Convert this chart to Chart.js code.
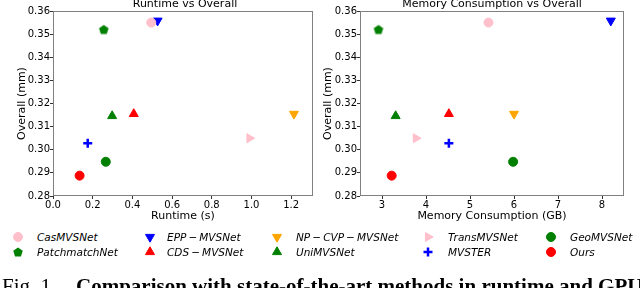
<!DOCTYPE html>
<html>
<head>
<meta charset="utf-8">
<script src="https://cdn.jsdelivr.net/npm/chart.js@4"></script>
<style>
  body { margin: 0; width: 640px; height: 288px; overflow: hidden; background: #fff; position: relative; font-family: 'DejaVu Sans', sans-serif; }
  canvas.plot { position: absolute; top: 0; }
  .title { position: absolute; top: -3px; font-size: 11px; line-height: 13px; white-space: nowrap; transform: translateX(-50%); color: #000; }
  .lg-text { position: absolute; font-size: 10.5px; font-style: italic; line-height: 14px; white-space: nowrap; color: #000; }
  .lg-mark { position: absolute; width: 16px; height: 16px; }
  .caption { position: absolute; top: 275px; font-family: 'Liberation Serif', serif; font-size: 21px; line-height: 22px; white-space: nowrap; color: #000; }
</style>
</head>
<body>
<canvas id="runtimeChart" class="plot" width="320" height="225" style="left:0"></canvas>
<canvas id="memoryChart" class="plot" width="320" height="225" style="left:320px"></canvas>
<div class="title" style="left:185px">Runtime vs Overall</div>
<div class="title" style="left:492px">Memory Consumption vs Overall</div>
<div id="legend"></div>
<div class="caption" style="left:2px">Fig. 1.</div>
<div class="caption" style="left:76px; font-weight:bold">Comparison with state-of-the-art methods in runtime and GPU</div>
<script>
// values
const methods = ['CasMVSNet', 'PatchmatchNet', 'EPP\u2009−\u2009MVSNet', 'CDS\u2009−\u2009MVSNet', 'NP\u2009−\u2009CVP\u2009−\u2009MVSNet',
                 'UniMVSNet', 'TransMVSNet', 'MVSTER', 'GeoMVSNet', 'Ours'];
const runtime = [0.495, 0.256, 0.527, 0.407, 1.214, 0.298, 0.99, 0.175, 0.266, 0.134];
const memory  = [5.42, 2.92, 8.2, 4.52, 6.0, 3.31, 3.77, 4.52, 5.98, 3.22];
const overall = [0.355, 0.352, 0.3558, 0.3155, 0.3155, 0.3146, 0.305, 0.3028, 0.2948, 0.2888];

const runtimeTicks = [0, 0.2, 0.4, 0.6, 0.8, 1.0, 1.2];
const memoryTicks = [3, 4, 5, 6, 7, 8];
const overallTicks = [0.28, 0.29, 0.30, 0.31, 0.32, 0.33, 0.34, 0.35, 0.36];

// marker styling
const colors = ['#ffc0cb', '#008000', '#0000ff', '#ff0000', '#ffa500', '#008000', '#ffc0cb', '#0000ff', '#008000', '#ff0000'];
const shapes = ['circle', 'pentagon', 'down', 'up', 'down', 'up', 'right', 'plus', 'circle', 'circle'];

const FONT = "'DejaVu Sans', sans-serif";

function pentagonImage(color) {
  const c = document.createElement('canvas');
  c.width = 12; c.height = 12;
  const g = c.getContext('2d');
  g.fillStyle = color;
  g.beginPath();
  for (let k = 0; k < 5; k++) {
    const a = -Math.PI / 2 + k * 2 * Math.PI / 5;
    const px = 6 + 5 * Math.cos(a), py = 6.4 + 5 * Math.sin(a);
    if (k === 0) g.moveTo(px, py); else g.lineTo(px, py);
  }
  g.closePath();
  g.fill();
  return c;
}

function markerStyle(shape, color) {
  switch (shape) {
    case 'pentagon': return { pointStyle: pentagonImage(color), rotation: 0, radius: 5, borderWidth: 0 };
    case 'down': return { pointStyle: 'triangle', rotation: 180, radius: 5.2, borderWidth: 1 };
    case 'up': return { pointStyle: 'triangle', rotation: 0, radius: 5.2, borderWidth: 1 };
    case 'right': return { pointStyle: 'triangle', rotation: 90, radius: 5.2, borderWidth: 1 };
    case 'plus': return { pointStyle: 'cross', rotation: 0, radius: 4.5, borderWidth: 2.5 };
    default: return { pointStyle: 'circle', rotation: 0, radius: 4.5, borderWidth: 1 };
  }
}

const boxPlugin = {
  id: 'box',
  beforeDatasetsDraw(chart) {
    const { ctx, chartArea: a } = chart;
    ctx.save();
    ctx.strokeStyle = '#808080';
    ctx.lineWidth = 1;
    ctx.strokeRect(a.left + 0.5, a.top + 0.5, a.right - a.left - 1, a.bottom - a.top - 1);
    ctx.restore();
  }
};

function makeChart(id, xs, xTicks, xMin, xMax, xFmt, xTitle, yWidth, yTitlePad, rightPad) {
  const datasets = methods.map((name, i) => {
    const m = markerStyle(shapes[i], colors[i]);
    return {
      label: name,
      data: [{ x: xs[i], y: overall[i] }],
      backgroundColor: colors[i],
      borderColor: colors[i],
      borderWidth: m.borderWidth,
      pointStyle: m.pointStyle,
      rotation: m.rotation,
      pointRadius: m.radius,
      pointHoverRadius: m.radius
    };
  });
  return new Chart(document.getElementById(id), {
    type: 'scatter',
    data: { datasets: datasets },
    plugins: [boxPlugin],
    options: {
      responsive: false,
      animation: false,
      devicePixelRatio: 1,
      layout: { padding: { top: 11, right: rightPad, left: 0, bottom: 0 } },
      plugins: { legend: { display: false }, tooltip: { enabled: false } },
      scales: {
        x: {
          type: 'linear', min: xMin, max: xMax,
          afterBuildTicks: s => { s.ticks = xTicks.map(v => ({ value: v })); },
          afterFit: s => { s.height = 29; },
          grid: { drawOnChartArea: false, tickLength: 3, tickColor: '#333' },
          border: { display: false },
          ticks: { padding: 0, color: '#000', font: { family: FONT, size: 10 }, callback: xFmt, maxRotation: 0 },
          title: { display: true, text: xTitle, color: '#000', font: { family: FONT, size: 11 }, padding: { top: 0, bottom: 2 } }
        },
        y: {
          type: 'linear', min: 0.28, max: 0.36,
          afterBuildTicks: s => { s.ticks = overallTicks.map(v => ({ value: v })); },
          afterFit: s => { s.width = yWidth; },
          grid: { drawOnChartArea: false, tickLength: 3, tickColor: '#333' },
          border: { display: false },
          ticks: { padding: 0, color: '#000', font: { family: FONT, size: 10 }, callback: v => v.toFixed(2) },
          title: { display: true, text: 'Overall (mm)', color: '#000', font: { family: FONT, size: 11 }, padding: { top: yTitlePad, bottom: 0 } }
        }
      }
    }
  });
}

makeChart('runtimeChart', runtime, runtimeTicks, 0, 1.31, v => v.toFixed(1), 'Runtime (s)', 53, 15.5, 3);
makeChart('memoryChart', memory, memoryTicks, 2.5, 8.5, v => String(v), 'Memory Consumption (GB)', 40, 2, 16);

// legend: 5 columns, 2 rows, column-major order
const legendMarkX = [18, 150, 277, 428, 551];
const legendTextX = [37, 167, 296, 448, 570];
const legendRowY = [237, 252];
const legend = document.getElementById('legend');
methods.forEach((name, i) => {
  const col = Math.floor(i / 2), row = i % 2;
  const cv = document.createElement('canvas');
  cv.width = 16; cv.height = 16;
  cv.className = 'lg-mark';
  cv.style.left = (legendMarkX[col] - 8) + 'px';
  cv.style.top = (legendRowY[row] - 8) + 'px';
  const g = cv.getContext('2d');
  const m = markerStyle(shapes[i], colors[i]);
  g.fillStyle = colors[i];
  g.strokeStyle = colors[i];
  g.lineWidth = m.borderWidth;
  Chart.helpers.drawPoint(g, m, 8, 8);
  legend.appendChild(cv);
  const t = document.createElement('div');
  t.className = 'lg-text';
  t.textContent = name;
  t.style.left = legendTextX[col] + 'px';
  t.style.top = (legendRowY[row] - 7) + 'px';
  legend.appendChild(t);
});
</script>
</body>
</html>
